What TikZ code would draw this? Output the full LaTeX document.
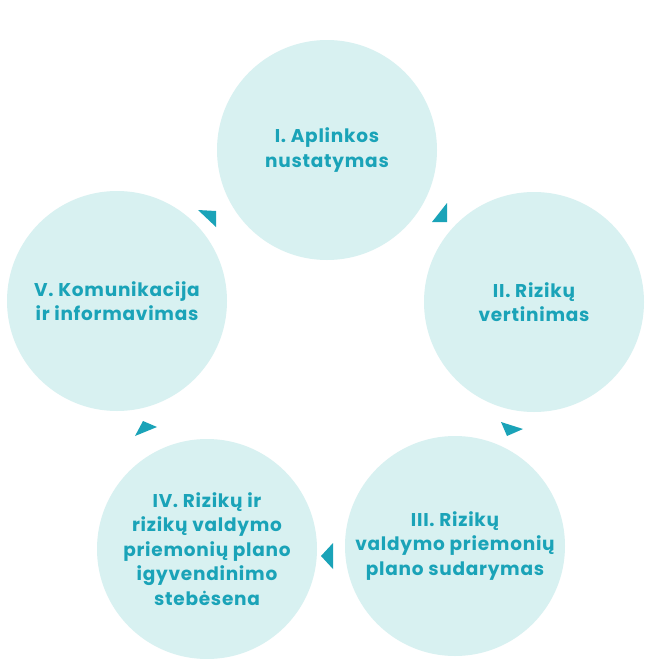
\documentclass[tikz,border=0pt]{standalone}
\usepackage{fontspec}
\setmainfont{Poppins}
\definecolor{circfill}{RGB}{216,241,241}
\definecolor{teal}{RGB}{26,163,184}
\begin{document}
\begin{tikzpicture}[x=1pt,y=-1pt,
  stage/.style={circle,fill=circfill,minimum size=220pt,inner sep=0pt,align=center,
    text=teal,font=\fontsize{18.5}{24.5}\selectfont\bfseries\addfontfeature{LetterSpace=4}},
  tri/.style={fill=teal,draw=none}]
\useasboundingbox[fill=white] (0,0) rectangle (645,659);
\node[stage] (s1) at (327,150) {I. Aplinkos\\nustatymas};
\node[stage] (s2) at (534,302) {II. Rizikų\\vertinimas};
\node[stage] (s3) at (455,546) {III. Rizikų\\valdymo priemonių\\plano sudarymas};
\node[stage] (s4) at (207,549) {IV. Rizikų ir\\rizikų valdymo\\priemonių plano\\igyvendinimo\\stebėsena};
\node[stage] (s5) at (117,301) {V. Komunikacija\\ir informavimas};
\coordinate (t1a) at (432,222); \coordinate (t1b) at (447,203); \coordinate (t1c) at (447,222);
\coordinate (t2a) at (501,422); \coordinate (t2b) at (523,429); \coordinate (t2c) at (507,436);
\coordinate (t3a) at (333,543); \coordinate (t3b) at (321,556); \coordinate (t3c) at (333,569);
\coordinate (t4a) at (143,421); \coordinate (t4b) at (157,427); \coordinate (t4c) at (135,436);
\coordinate (t5a) at (198,210); \coordinate (t5b) at (216,211); \coordinate (t5c) at (216,227);
\fill[tri] (t1a) -- (t1b) -- (t1c) -- cycle;
\fill[tri] (t2a) -- (t2b) -- (t2c) -- cycle;
\fill[tri] (t3a) -- (t3b) -- (t3c) -- cycle;
\fill[tri] (t4a) -- (t4b) -- (t4c) -- cycle;
\fill[tri] (t5a) -- (t5b) -- (t5c) -- cycle;
\end{tikzpicture}
\end{document}
